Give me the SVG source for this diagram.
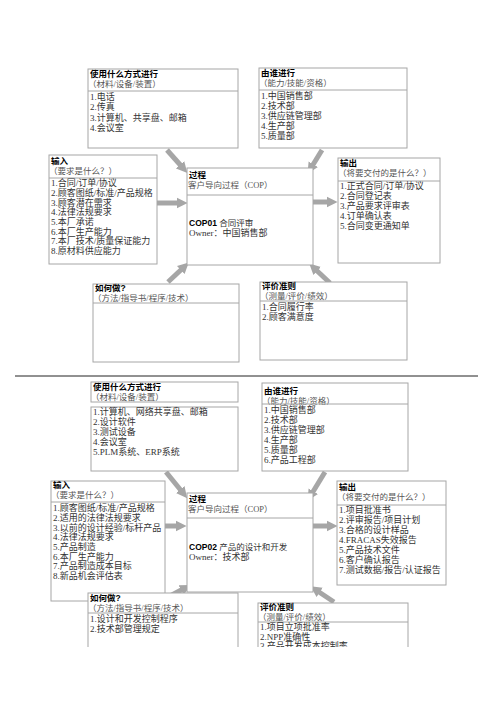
<svg xmlns="http://www.w3.org/2000/svg" width="496" height="702" viewBox="0 0 496 702">
<defs>
<style>
.bx{fill:#fff;stroke:#a6a6a6;stroke-width:1}
.dv{stroke:#a6a6a6;stroke-width:1}
.h{font-family:"Liberation Sans","Noto Sans CJK SC",sans-serif;font-size:8.5px;font-weight:bold;fill:#000}
.s{font-family:"Liberation Serif","Noto Sans CJK SC",serif;font-size:8.5px;fill:#555}
.t{font-family:"Liberation Serif","Noto Sans CJK SC",serif;font-size:9px;fill:#333}
.a{stroke:#a6a6a6;stroke-width:5;fill:none;marker-end:url(#ah)}
</style>
<marker id="ah" viewBox="0 0 10 10" refX="4" refY="5" markerWidth="2.2" markerHeight="2.6" orient="auto" markerUnits="strokeWidth">
<path d="M0,0 L10,5 L0,10 z" fill="#a6a6a6"/>
</marker>
<clipPath id="pg"><rect x="0" y="0" width="496" height="647"/></clipPath>
</defs>
<rect width="496" height="702" fill="#fff"/>

<g id="connectors">
<line class="a" x1="167" y1="150" x2="183" y2="168"/>
<line class="a" x1="322" y1="150" x2="311" y2="168"/>
<line class="a" x1="157" y1="203" x2="181" y2="203"/>
<line class="a" x1="307" y1="202" x2="331" y2="202"/>
<line class="a" x1="168" y1="282" x2="184" y2="267"/>
<line class="a" x1="330" y1="283" x2="314" y2="268"/>
<line class="a" x1="166" y1="472" x2="183" y2="493"/>
<line class="a" x1="325" y1="472" x2="311" y2="495"/>
<line class="a" x1="155" y1="526" x2="180" y2="526"/>
<line class="a" x1="307" y1="526" x2="331" y2="526"/>
<line class="a" x1="170" y1="596" x2="185" y2="588"/>
<line class="a" x1="334" y1="602" x2="316" y2="590"/>
</g>

<line x1="15" y1="376" x2="478" y2="376" stroke="#222" stroke-width="1"/>

<g id="how1">
<rect class="bx" x="88" y="69" width="150" height="79"/>
<line class="dv" x1="88" y1="91" x2="238" y2="91"/>
<text class="h" x="90" y="77">使用什么方式进行</text>
<text class="s" x="88" y="87">（材料/设备/装置）</text>
<text class="t" x="90" y="100">1.电话</text>
<text class="t" x="90" y="110">2.传真</text>
<text class="t" x="90" y="121">3.计算机、共享盘、邮箱</text>
<text class="t" x="90" y="131">4.会议室</text>
</g>

<g id="who1">
<rect class="bx" x="259" y="68" width="148" height="80"/>
<line class="dv" x1="259" y1="90" x2="407" y2="90"/>
<text class="h" x="261" y="76">由谁进行</text>
<text class="s" x="259" y="86">（能力/技能/资格）</text>
<text class="t" x="261" y="99">1.中国销售部</text>
<text class="t" x="261" y="109">2.技术部</text>
<text class="t" x="261" y="119">3.供应链管理部</text>
<text class="t" x="261" y="129">4.生产部</text>
<text class="t" x="261" y="139">5.质量部</text>
</g>

<g id="input1">
<rect class="bx" x="49" y="155" width="108" height="109"/>
<line class="dv" x1="49" y1="178" x2="157" y2="178"/>
<text class="h" x="51" y="164">输入</text>
<text class="s" x="49" y="174">（要求是什么？）</text>
<text class="t" x="51" y="186">1.合同/订单/协议</text>
<text class="t" x="51" y="196">2.顾客图纸/标准/产品规格</text>
<text class="t" x="51" y="205.5">3.顾客潜在需求</text>
<text class="t" x="51" y="215">4.法律法规要求</text>
<text class="t" x="51" y="225">5.本厂承诺</text>
<text class="t" x="51" y="234.5">6.本厂生产能力</text>
<text class="t" x="51" y="244">7.本厂技术/质量保证能力</text>
<text class="t" x="51" y="254">8.原材料供应能力</text>
</g>

<g id="process1">
<rect class="bx" x="187" y="168" width="126" height="97"/>
<line class="dv" x1="187" y1="195" x2="313" y2="195"/>
<text class="h" x="189" y="178">过程</text>
<text class="s" x="188" y="188">客户导向过程（COP）</text>
<text class="h" x="189" y="226">COP01 <tspan font-weight="normal" fill="#333">合同评审</tspan></text>
<text class="t" x="189" y="236">Owner：中国销售部</text>
</g>

<g id="output1">
<rect class="bx" x="338" y="158" width="102" height="105"/>
<line class="dv" x1="338" y1="181" x2="440" y2="181"/>
<text class="h" x="340" y="166">输出</text>
<text class="s" x="338" y="176">（将要交付的是什么？）</text>
<text class="t" x="340" y="189">1.正式合同/订单/协议</text>
<text class="t" x="340" y="199">2.合同登记表</text>
<text class="t" x="340" y="209">3.产品要求评审表</text>
<text class="t" x="340" y="219">4.订单确认表</text>
<text class="t" x="340" y="229">5.合同变更通知单</text>
</g>

<g id="method1">
<rect class="bx" x="93" y="284" width="146" height="78"/>
<line class="dv" x1="93" y1="303" x2="239" y2="303"/>
<text class="h" x="95" y="291">如何做?</text>
<text class="s" x="93" y="300.5">（方法/指导书/程序/技术）</text>
</g>

<g id="criteria1">
<rect class="bx" x="260" y="282" width="147" height="78"/>
<line class="dv" x1="260" y1="301" x2="407" y2="301"/>
<text class="h" x="262" y="289">评价准则</text>
<text class="s" x="260" y="298.5">（测量/评价/绩效）</text>
<text class="t" x="262" y="310">1.合同履行率</text>
<text class="t" x="262" y="320">2.顾客满意度</text>
</g>

<g id="how2">
<rect class="bx" x="91" y="382" width="147" height="20"/>
<text class="h" x="93" y="390">使用什么方式进行</text>
<text class="s" x="91" y="399.5">（材料/设备/装置）</text>
<rect class="bx" x="91" y="407" width="147" height="64"/>
<text class="t" x="93" y="415">1.计算机、网络共享盘、邮箱</text>
<text class="t" x="93" y="425">2.设计软件</text>
<text class="t" x="93" y="435">3.测试设备</text>
<text class="t" x="93" y="445">4.会议室</text>
<text class="t" x="93" y="455">5.PLM系统、ERP系统</text>
</g>

<g id="who2">
<rect class="bx" x="262" y="383" width="146" height="88"/>
<text class="h" x="264" y="394">由谁进行</text>
<text class="s" x="262" y="403.5">（能力/技能/资格）</text>
<line class="dv" x1="262" y1="404" x2="408" y2="404"/>
<text class="t" x="264" y="413">1.中国销售部</text>
<text class="t" x="264" y="423">2.技术部</text>
<text class="t" x="264" y="433">3.供应链管理部</text>
<text class="t" x="264" y="443">4.生产部</text>
<text class="t" x="264" y="453">5.质量部</text>
<text class="t" x="264" y="463">6.产品工程部</text>
</g>

<g id="input2">
<rect class="bx" x="51" y="481" width="114" height="120"/>
<line class="dv" x1="51" y1="502" x2="165" y2="502"/>
<text class="h" x="53" y="488">输入</text>
<text class="s" x="51" y="497.5">（要求是什么？）</text>
<text class="t" x="53" y="511">1.顾客图纸/标准/产品规格</text>
<text class="t" x="53" y="521">2.适用的法律法规要求</text>
<text class="t" x="53" y="530.5">3.以前的设计经验/标杆产品</text>
<text class="t" x="53" y="540">4.法律法规要求</text>
<text class="t" x="53" y="550">5.产品制造</text>
<text class="t" x="53" y="559.5">6.本厂生产能力</text>
<text class="t" x="53" y="569">7.产品制造成本目标</text>
<text class="t" x="53" y="579">8.新品机会评估表</text>
</g>

<g id="process2">
<rect class="bx" x="187" y="493" width="126" height="99"/>
<line class="dv" x1="187" y1="518" x2="313" y2="518"/>
<text class="h" x="189" y="502">过程</text>
<text class="s" x="188" y="512">客户导向过程（COP）</text>
<text class="h" x="189" y="550">COP02 <tspan font-weight="normal" fill="#333">产品的设计和开发</tspan></text>
<text class="t" x="189" y="560">Owner：技术部</text>
</g>

<g id="output2">
<rect class="bx" x="337" y="481" width="109" height="104"/>
<line class="dv" x1="337" y1="505" x2="446" y2="505"/>
<text class="h" x="339" y="490">输出</text>
<text class="s" x="337" y="500">（将要交付的是什么？）</text>
<text class="t" x="339" y="513">1.项目批准书</text>
<text class="t" x="339" y="523">2.评审报告/项目计划</text>
<text class="t" x="339" y="533">3.合格的设计样品</text>
<text class="t" x="339" y="543">4.FRACAS失效报告</text>
<text class="t" x="339" y="553">5.产品技术文件</text>
<text class="t" x="339" y="563">6.客户确认报告</text>
<text class="t" x="339" y="573">7.测试数据/报告/认证报告</text>
</g>

<g id="method2" clip-path="url(#pg)">
<rect class="bx" x="88" y="593" width="150" height="80"/>
<line class="dv" x1="88" y1="613" x2="238" y2="613"/>
<text class="h" x="90" y="601">如何做?</text>
<text class="s" x="88" y="610.5">（方法/指导书/程序/技术）</text>
<text class="t" x="90" y="622">1.设计和开发控制程序</text>
<text class="t" x="90" y="632">2.技术部管理规定</text>
</g>

<g id="criteria2" clip-path="url(#pg)">
<rect class="bx" x="258" y="603" width="150" height="70"/>
<line class="dv" x1="258" y1="622" x2="408" y2="622"/>
<text class="h" x="260" y="610">评价准则</text>
<text class="s" x="258" y="619.5">（测量/评价/绩效）</text>
<text class="t" x="260" y="630">1.项目立项批准率</text>
<text class="t" x="260" y="639.5">2.NPP准确性</text>
<text class="t" x="260" y="649">3.产品开发成本控制率</text>
</g>
</svg>
